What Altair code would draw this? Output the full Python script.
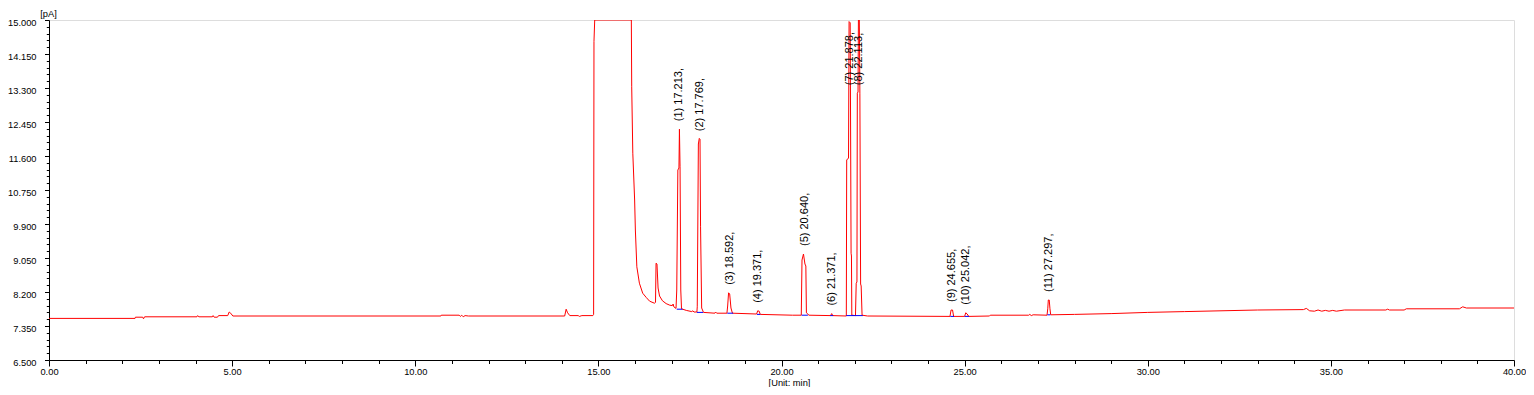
import altair as alt
import pandas as pd

# ---- chromatogram trace (retention time [min], signal [pA]) ----
trace_time = [
    0.00, 2.35, 2.36, 2.56, 2.58, 2.61, 4.04, 4.06, 4.09, 4.46, 4.48, 4.51, 4.60, 4.63,
    4.88, 4.92, 4.96, 5.02, 10.70, 10.71, 11.20, 11.23, 11.27, 11.31, 11.36, 11.45,
    14.08, 14.12, 14.16, 14.22, 14.45, 14.48, 14.55, 14.85, 14.87, 14.88, 14.90,
    15.90, 15.91, 15.94, 15.99, 16.01, 16.05, 16.12, 16.21, 16.31, 16.40, 16.53,
    16.56, 16.575, 16.60, 16.63, 16.67, 16.75, 16.85, 16.95, 17.02, 17.04, 17.06,
    17.12, 17.14, 17.17, 17.20, 17.213, 17.23, 17.25, 17.27, 17.40, 17.55, 17.58,
    17.61, 17.69, 17.70, 17.73, 17.755, 17.775, 17.79, 17.82, 17.87, 18.18, 18.20,
    18.23, 18.51, 18.53, 18.555, 18.585, 18.62, 18.66, 19.32, 19.35, 19.39, 19.42,
    20.30, 20.54, 20.56, 20.60, 20.64, 20.665, 20.68, 20.75, 21.34, 21.37, 21.40,
    21.77, 21.78, 21.83, 21.845, 21.875, 21.90, 21.91, 21.92, 22.02, 22.04, 22.06,
    22.07, 22.09, 22.10, 22.125, 22.14, 22.16, 22.175, 22.20, 22.35, 24.60, 24.63,
    24.67, 24.70, 25.00, 25.03, 25.07, 25.11, 25.68, 25.70, 26.75, 26.78, 26.82,
    26.87, 27.25, 27.27, 27.285, 27.31, 27.33, 27.35, 28.00, 29.00, 30.00, 31.00,
    32.00, 33.00, 34.25, 34.33, 34.42, 34.55, 34.65, 34.75, 34.85, 34.95, 35.05,
    35.15, 35.37, 36.50, 36.55, 36.60, 37.00, 37.06, 38.51, 38.60, 38.70, 40.00,
]
trace_pa = [
    7.54, 7.54, 7.57, 7.57, 7.53, 7.58, 7.58, 7.61, 7.58, 7.58, 7.61, 7.57, 7.57, 7.61,
    7.61, 7.70, 7.67, 7.60, 7.60, 7.62, 7.62, 7.59, 7.62, 7.58, 7.61, 7.60,
    7.60, 7.77, 7.68, 7.61, 7.61, 7.59, 7.61, 7.61, 7.64, 14.46, 15.00,
    15.00, 13.33, 11.67, 10.50, 9.75, 8.83, 8.42, 8.17, 8.06, 7.97, 7.92,
    7.94, 8.92, 8.90, 8.30, 8.10, 7.98, 7.91, 7.87, 7.86, 7.90, 7.83,
    7.79, 8.25, 11.25, 11.30, 12.27, 11.33, 8.25, 7.78, 7.74, 7.71, 7.73,
    7.70, 7.70, 7.83, 11.90, 12.04, 12.02, 9.83, 7.80, 7.69, 7.67, 7.70,
    7.67, 7.67, 7.85, 8.18, 8.15, 7.80, 7.67, 7.65, 7.73, 7.72, 7.64,
    7.62, 7.62, 9.00, 9.15, 8.90, 8.85, 7.68, 7.62, 7.61, 7.66, 7.61,
    7.60, 11.50, 11.55, 14.96, 14.93, 9.17, 9.10, 7.62, 7.61, 8.42, 8.45,
    13.17, 13.20, 15.00, 15.00, 13.17, 8.40, 8.35, 7.62, 7.60, 7.59, 7.75,
    7.75, 7.59, 7.59, 7.68, 7.65, 7.59, 7.60, 7.62, 7.62, 7.64, 7.61,
    7.63, 7.62, 7.78, 8.00, 8.00, 7.78, 7.63, 7.64, 7.66, 7.69, 7.71,
    7.73, 7.75, 7.76, 7.79, 7.73, 7.72, 7.75, 7.72, 7.74, 7.72, 7.74,
    7.72, 7.75, 7.75, 7.77, 7.75, 7.75, 7.78, 7.78, 7.83, 7.80, 7.80,
]

# ---- integrated peaks ----
peak_no = [1, 2, 3, 4, 5, 6, 7, 8, 9, 10, 11]
peak_rt = [17.213, 17.769, 18.592, 19.371, 20.640, 21.371, 21.878, 22.113, 24.655, 25.042, 27.297]
peak_top = [12.27, 12.02, 8.18, 7.73, 9.15, 7.66, 14.96, 15.00, 7.75, 7.68, 8.00]
base_start = [17.14, 17.69, 18.52, 19.33, 20.55, 21.33, 21.77, 22.00, 24.61, 25.00, 27.26]
base_end = [17.30, 17.86, 18.68, 19.42, 20.72, 21.41, 22.00, 22.22, 24.71, 25.12, 27.34]
base_level = [7.77, 7.69, 7.67, 7.64, 7.62, 7.61, 7.61, 7.61, 7.59, 7.59, 7.63]

# ---- axis ticks ----
x_major = [0, 5, 10, 15, 20, 25, 30, 35, 40]
x_minor = [t for t in range(0, 41) if t % 5 != 0]
y_major = [round(6.5 + 0.85 * k, 3) for k in range(11)]
y_minor = [round(6.5 + 0.17 * k, 3) for k in range(51) if k % 5 != 0]

FONT = "Liberation Sans"
label_gap = 0.2
label_cap = 13.37

trace = pd.DataFrame({"t": trace_time, "pA": trace_pa})
peaks = pd.DataFrame({
    "t": peak_rt,
    "label": [f"({n}) {rt:.3f}," for n, rt in zip(peak_no, peak_rt)],
    "ly": [min(v + label_gap, label_cap) for v in peak_top],
})
bases = pd.DataFrame({"t0": base_start, "t1": base_end, "v": base_level})

xscale = alt.Scale(domain=[0, 40], nice=False, zero=False)
yscale = alt.Scale(domain=[6.5, 15.0], nice=False, zero=False)

common_axis = dict(grid=False, domainColor="black", tickColor="black", labelColor="black",
                   titleColor="black", labelFont=FONT, titleFont=FONT, labelFontSize=9.3,
                   titleFontSize=9.3, titleFontWeight="normal", domainWidth=1, tickWidth=1)

x_axis = alt.Axis(values=x_major, format=".2f", tickSize=6, labelPadding=1, orient="bottom",
                  labelFlush=False, labelOverlap=False, title="[Unit: min]", titleX=740,
                  titleY=18, titleBaseline="top", titleAlign="center", **common_axis)
y_axis = alt.Axis(values=y_major, format=".3f", tickSize=4.5, labelPadding=8.5, orient="left",
                  labelOverlap=False, title="[pA]", titleAngle=0, titleX=-1, titleY=-6.5,
                  titleAlign="center", titleBaseline="middle", labelOffset=2, **common_axis)

x_minor_axis = alt.Axis(values=x_minor, tickSize=3.5, labels=False, domain=False, orient="bottom",
                        title=None, grid=False, tickColor="black", tickWidth=1)
y_minor_axis = alt.Axis(values=y_minor, tickSize=2.7, labels=False, domain=False, orient="left",
                        title=None, grid=False, tickColor="black", tickWidth=1)

line = alt.Chart(trace).mark_line(color="#FF0000", strokeWidth=1, clip=True,
                                  interpolate="linear").encode(
    x=alt.X("t:Q", scale=xscale, axis=x_axis),
    y=alt.Y("pA:Q", scale=yscale, axis=y_axis),
    order="t:Q",
)

base_rules = alt.Chart(bases).mark_rule(color="#0000FF", strokeWidth=1).encode(
    x=alt.X("t0:Q", scale=xscale, axis=x_minor_axis),
    x2="t1:Q",
    y=alt.Y("v:Q", scale=yscale, axis=y_minor_axis),
)

labels = alt.Chart(peaks).mark_text(angle=270, align="left", baseline="middle", font=FONT,
                                    fontSize=11, color="black").encode(
    x=alt.X("t:Q", scale=xscale, axis=None),
    y=alt.Y("ly:Q", scale=yscale, axis=None),
    text="label:N",
)

chart = alt.layer(line, base_rules, labels).resolve_axis(
    x="independent", y="independent"
).properties(
    width=1465, height=340,
    autosize=alt.AutoSizeParams(type="none"),
    padding={"left": 41, "top": 12, "right": 12, "bottom": 27},
    background="white",
).configure_view(stroke=None).configure(font=FONT)

chart.save("out.html", embed_options={"renderer": "svg", "actions": False})
